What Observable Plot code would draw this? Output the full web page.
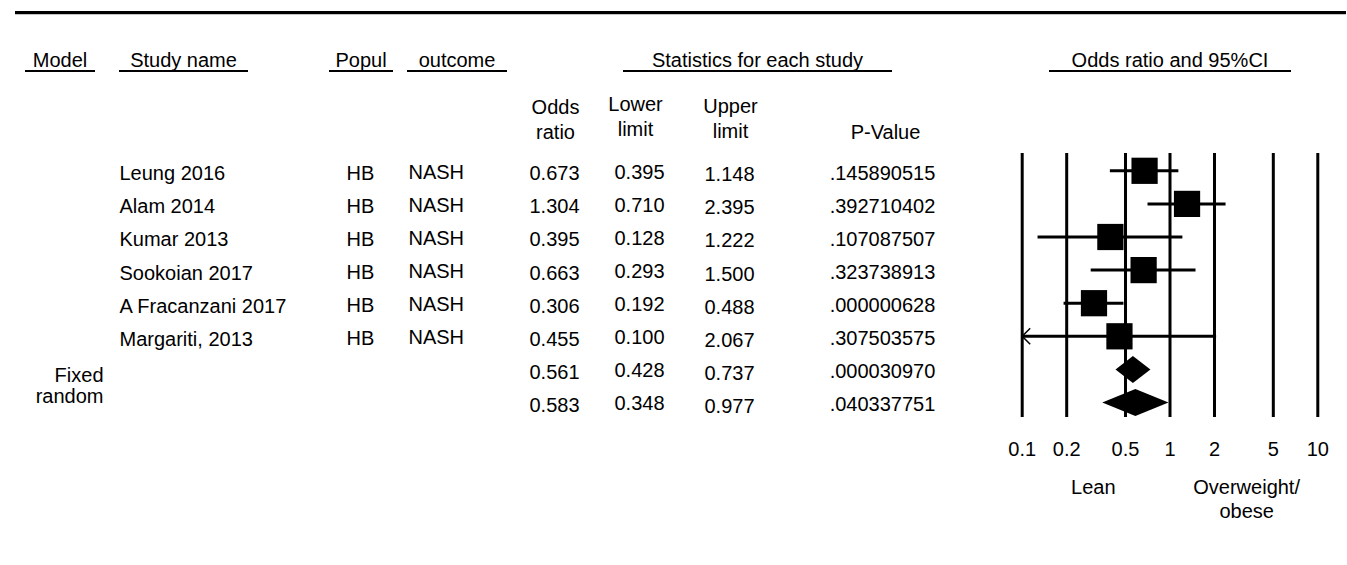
<!DOCTYPE html>
<html>
<head>
<meta charset="utf-8">
<script src="https://cdn.jsdelivr.net/npm/d3@7"></script>
<script src="https://cdn.jsdelivr.net/npm/@observablehq/plot@0.6"></script>
<style>
html, body { margin: 0; padding: 0; background: #fff; }
#wrap { position: relative; width: 1347px; height: 565px; overflow: hidden; font-family: "Liberation Sans", Arial, sans-serif; color: #000; }
#wrap svg { position: absolute; left: 0; top: 0; }
.topline { position: absolute; left: 15px; top: 11px; width: 1331px; height: 3px; background: #000; box-shadow: 0 1px 0 #c4c4c4; }
.hdr { position: absolute; top: 50px; height: 20px; line-height: 20px; font-size: 20px; text-align: center; border-bottom: 2px solid #000; white-space: nowrap; }
</style>
</head>
<body>
<div id="wrap"></div>
<script>
// ---- data ----
const studies     = ["Leung 2016", "Alam 2014", "Kumar 2013", "Sookoian 2017", "A Fracanzani 2017", "Margariti, 2013"];
const population  = ["HB", "HB", "HB", "HB", "HB", "HB"];
const outcomes    = ["NASH", "NASH", "NASH", "NASH", "NASH", "NASH"];
const oddsRatio   = [0.673, 1.304, 0.395, 0.663, 0.306, 0.455];
const lowerLimit  = [0.395, 0.710, 0.128, 0.293, 0.192, 0.100];
const upperLimit  = [1.148, 2.395, 1.222, 1.500, 0.488, 2.067];
const pValue      = [".145890515", ".392710402", ".107087507", ".323738913", ".000000628", ".307503575"];
const models      = ["Fixed", "random"];
const summaryOR    = [0.561, 0.583];
const summaryLower = [0.428, 0.348];
const summaryUpper = [0.737, 0.977];
const summaryP     = [".000030970", ".040337751"];
const xTicks       = [0.1, 0.2, 0.5, 1, 2, 5, 10];
const headerLabels = ["Model", "Study name", "Popul", "outcome", "Statistics for each study", "Odds ratio and 95%CI"];
const statLabels   = ["Odds\nratio", "Lower\nlimit", "Upper\nlimit", "P-Value"];
const favourLabels = ["Lean", "Overweight/\nobese"];

// ---- layout (pixels / styles) ----
const W = 1347, H = 565;
const frameTop = 153, frameBottom = 417;
const xRange = [1021.7, 1317.3];
const yRange = [170.3, 402];
const nRows = studies.length + models.length;
const rowStep = (yRange[1] - yRange[0]) / (nRows - 1);
const headerSpans = [[25, 95], [119, 248], [329, 393], [407, 507], [623, 892], [1049, 1291]];
const statLayout = [{x: 555, dy: 138 - frameTop}, {x: 635, dy: 135 - frameTop}, {x: 730, dy: 137.5 - frameTop}, {x: 885, dy: 138 - frameTop}];
const favourX = [1 / 3.3, 3.3];
const fontStack = "Liberation Sans, Arial, sans-serif";

// ---- rows ----
const fmt = d3.format(".3f");
const studyRows = studies.map((name, i) => ({
  i, name, popul: population[i], outcome: outcomes[i],
  or: oddsRatio[i], lower: lowerLimit[i], upper: upperLimit[i], p: pValue[i]
}));
const summaryRows = models.map((m, j) => ({
  i: studies.length + j, model: m,
  or: summaryOR[j], lower: summaryLower[j], upper: summaryUpper[j], p: summaryP[j]
}));
const allRows = [...studyRows, ...summaryRows];
const xMin = 0.1;

const numCols = [
  {text: d => fmt(d.or), x: 554, dy: 3},
  {text: d => fmt(d.lower), x: 639, dy: 1.4},
  {text: d => fmt(d.upper), x: 729, dy: 4},
  {text: d => d.p, x: 882, dy: 2.4}
];

const dh = 13.5 / rowStep;
const diamondPts = summaryRows.flatMap(d => [
  {m: d.model, x: d.lower, y: d.i},
  {m: d.model, x: d.or, y: d.i - dh},
  {m: d.model, x: d.upper, y: d.i},
  {m: d.model, x: d.or, y: d.i + dh},
  {m: d.model, x: d.lower, y: d.i}
]);

const chevron = {
  draw(ctx, size) {
    const r = Math.sqrt(size / Math.PI);
    ctx.moveTo(r, -r);
    ctx.lineTo(0, 0);
    ctx.lineTo(r, r);
  }
};

const favourData = favourLabels.map((label, k) => ({label, x: favourX[k]}));

const chart = Plot.plot({
  width: W, height: H,
  marginTop: frameTop, marginBottom: H - frameBottom, marginLeft: 0, marginRight: 0,
  style: {fontFamily: fontStack, fontSize: "20px", color: "#000", background: "transparent", overflow: "visible"},
  x: {type: "log", domain: [0.1, 10], range: xRange, ticks: xTicks, tickFormat: d => String(d), tickSize: 0, tickPadding: 24, label: null},
  y: {type: "linear", domain: [0, nRows - 1], range: yRange, axis: null},
  marks: [
    Plot.ruleX(xTicks, {stroke: "#000", strokeWidth: 3}),
    Plot.ruleY(studyRows, {y: "i", x1: d => Math.max(d.lower, xMin), x2: "upper", stroke: "#000", strokeWidth: 3}),
    Plot.dot(studyRows, {x: "or", y: "i", symbol: "square", r: 14.8, fill: "#000", stroke: "none"}),
    Plot.dot(studyRows.filter(d => d.lower <= xMin), {x: () => xMin, y: "i", symbol: chevron, r: 8, fill: "none", stroke: "#000", strokeWidth: 1.5}),
    Plot.line(diamondPts, {x: "x", y: "y", z: "m", fill: "#000", stroke: "none", curve: "linear"}),
    // table columns
    Plot.text(studyRows, {y: "i", text: "name", frameAnchor: "left", dx: 119, dy: 3, textAnchor: "start", fill: "#000"}),
    Plot.text(studyRows, {y: "i", text: "popul", frameAnchor: "left", dx: 360, dy: 2.4, textAnchor: "middle", fill: "#000"}),
    Plot.text(studyRows, {y: "i", text: "outcome", frameAnchor: "left", dx: 408, dy: 1.4, textAnchor: "start", fill: "#000"}),
    Plot.text(summaryRows.slice(0, 1), {y: "i", text: "model", frameAnchor: "left", dx: 103, dy: 6, textAnchor: "end", fill: "#000"}),
    Plot.text(summaryRows.slice(1, 2), {y: "i", text: "model", frameAnchor: "left", dx: 103, dy: -6, textAnchor: "end", fill: "#000"}),
    ...numCols.map(c => Plot.text(allRows, {y: "i", text: c.text, frameAnchor: "left", dx: c.x, dy: c.dy, textAnchor: "middle", fill: "#000"})),
    ...statLabels.map((s, k) => Plot.text([s], {text: d => d, frameAnchor: "top-left", dx: statLayout[k].x, dy: statLayout[k].dy, textAnchor: "middle", lineAnchor: "bottom", lineHeight: 1.25, fill: "#000"})),
    Plot.text(favourData, {x: "x", text: "label", frameAnchor: "bottom", dy: 59, lineAnchor: "top", lineHeight: 1.2, textAnchor: "middle", fill: "#000"})
  ]
});

const wrap = document.getElementById("wrap");
wrap.appendChild(chart);
const topRule = document.createElement("div");
topRule.className = "topline";
wrap.appendChild(topRule);
headerLabels.forEach((label, k) => {
  const d = document.createElement("div");
  d.className = "hdr";
  d.style.left = headerSpans[k][0] + "px";
  d.style.width = (headerSpans[k][1] - headerSpans[k][0]) + "px";
  d.textContent = label;
  wrap.appendChild(d);
});
</script>
</body>
</html>
